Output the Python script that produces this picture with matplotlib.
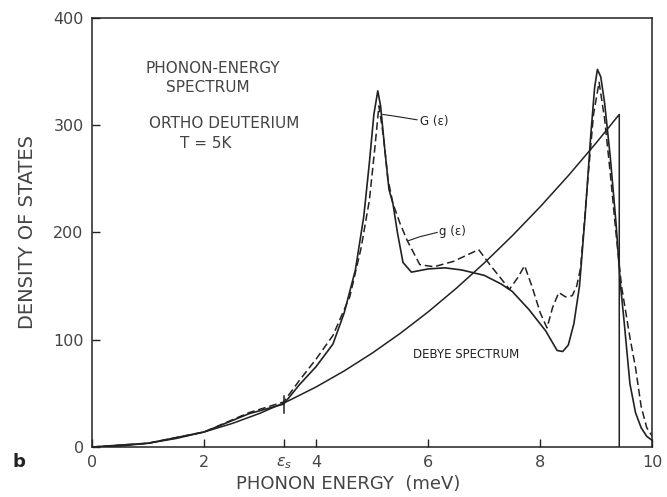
import matplotlib
matplotlib.use("Agg")
import matplotlib.pyplot as plt

# =========================
# DATA
# =========================

# Debye spectrum, cut off at the Debye energy
debye_e = [0, 0.5, 1, 1.5, 2, 2.5, 3, 3.5, 4, 4.5, 5, 5.5, 6, 6.5, 7,
           7.5, 8, 8.5, 9, 9.41, 9.41]
debye_d = [0, 0.9, 3.5, 7.9, 14, 21.9, 31.5, 42.9, 56, 70.9, 87.5, 105.9,
           126, 147.9, 171.5, 196.9, 224, 252.9, 283.6, 310, 0]

# G(e), solid curve
big_e = [0, 1, 2, 2.8, 3.42, 3.7, 4.0, 4.3, 4.5, 4.7, 4.85, 4.95, 5.03,
         5.1, 5.15, 5.22, 5.3, 5.37, 5.45, 5.55, 5.7, 6.0, 6.3, 6.6, 7.0,
         7.3, 7.5, 7.8, 8.1, 8.3, 8.4, 8.5, 8.6, 8.7, 8.8, 8.9, 8.97, 9.02,
         9.08, 9.15, 9.25, 9.35, 9.43, 9.5, 9.6, 9.7, 9.8, 9.9, 10.0]
big_g = [0, 3.5, 14, 31, 40, 58, 75, 96, 125, 165, 215, 265, 310,
         332, 318, 280, 240, 227, 200, 172, 163, 166, 167, 165, 160,
         152, 145, 128, 108, 90, 89, 95, 115, 150, 215, 290, 335, 352,
         345, 320, 270, 210, 152, 115, 59, 32, 18, 10, 6]

# g(e), dashed curve
small_e = [0, 1, 2, 2.8, 3.42, 3.7, 4.0, 4.3, 4.6, 4.8, 4.95, 5.05, 5.12,
           5.2, 5.28, 5.37, 5.5, 5.63, 5.85, 6.1, 6.45, 6.9, 7.1, 7.33,
           7.45, 7.6, 7.72, 7.85, 8.0, 8.12, 8.22, 8.33, 8.45, 8.57, 8.65,
           8.72, 8.85, 8.95, 9.05, 9.15, 9.25, 9.35, 9.45, 9.6, 9.7, 9.8,
           9.9, 10.0]
small_g = [0, 3.5, 14, 32, 42, 62, 82, 104, 140, 185, 230, 280, 318,
           290, 250, 227, 208, 192, 170, 168, 173, 184, 170, 155,
           147, 158, 169, 150, 125, 111, 130, 144, 140, 141, 150,
           167, 250, 310, 340, 305, 255, 200, 150, 102, 74, 38, 18, 10]

e_s = 3.42
e_s_mark = [32, 48]

x_ticks = [0, 2, e_s, 4, 6, 8, 10]
x_tick_labels = ["0", "2", r"$\epsilon_s$", "4", "6", "8", "10"]
y_ticks = [0, 100, 200, 300, 400]

ink = "#222222"
soft = "#444444"

# =========================
# PLOT
# =========================

fig = plt.figure(figsize=(6.67, 4.97), dpi=100)
ax = fig.add_axes([0.138, 0.1006, 0.840, 0.8634])

ax.plot(debye_e, debye_d, color=ink, linewidth=1.1)
ax.plot(big_e, big_g, color=ink, linewidth=1.2)
ax.plot(small_e, small_g, color=ink, linewidth=1.1, dashes=(5, 2.5))
ax.plot([e_s, e_s], e_s_mark, color=ink, linewidth=1.1)

# curve labels with leader lines
ax.plot([5.19, 5.45, 5.8], [310, 308, 305], color=ink, linewidth=0.8)
ax.text(5.85, 303, "G (ε)", fontsize=8.5, color=ink, va="center")
ax.plot([5.63, 5.85, 6.16], [192, 196, 200], color=ink, linewidth=0.8)
ax.text(6.2, 201, "g (ε)", fontsize=8.5, color=ink, va="center")

# title block
ax.text(2.15, 353, "PHONON-ENERGY", fontsize=11, color=soft, ha="center", va="center")
ax.text(2.06, 335, "SPECTRUM", fontsize=11, color=soft, ha="center", va="center")
ax.text(2.35, 302, "ORTHO DEUTERIUM", fontsize=11, color=soft, ha="center", va="center")
ax.text(2.03, 283, "T = 5K", fontsize=11, color=soft, ha="center", va="center")
ax.text(6.67, 86, "DEBYE SPECTRUM", fontsize=8.5, color=ink, ha="center", va="center")

ax.set_xlim(0, 10)
ax.set_ylim(0, 400)
ax.set_xticks(x_ticks)
ax.set_xticklabels(x_tick_labels)
ax.set_yticks(y_ticks)
ax.tick_params(direction="in", length=6, width=1, colors=ink,
               labelsize=11.5, pad=6)
for lbl in ax.get_xticklabels() + ax.get_yticklabels():
    lbl.set_color(soft)

for side in ax.spines.values():
    side.set_color(ink)
    side.set_linewidth(1.1)

ax.set_ylabel("DENSITY OF STATES", fontsize=14, color=soft, labelpad=12)
fig.text(0.522, 0.026, "PHONON ENERGY  (meV)", fontsize=13, color=soft,
         ha="center", va="center")
fig.text(0.028, 0.07, "b", fontsize=13, fontweight="bold", color=ink,
         ha="center", va="center")

fig.savefig("out.png", dpi=100)
